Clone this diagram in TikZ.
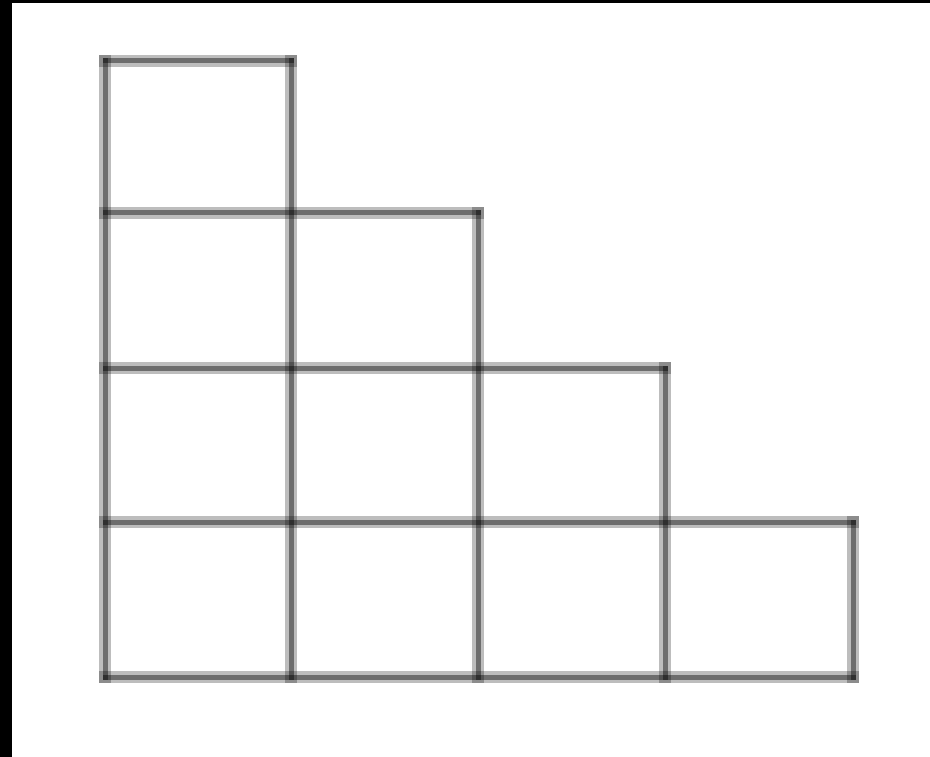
\documentclass[tikz,border=0pt]{standalone}
\begin{document}
\begin{tikzpicture}[x=1pt,y=-1pt,
  halo/.style={draw=black, draw opacity=0.26, line width=12pt, line cap=rect},
  core/.style={draw=black, draw opacity=0.42, line width=5pt, line cap=rect}]
\useasboundingbox (0,0) rectangle (930,757);
\fill[white] (0,0) rectangle (930,757);
\fill[black] (0,0) rectangle (12,757);
\fill[black] (0,0) rectangle (930,3);
% grid coordinates
\foreach \i/\x in {0/105,1/291,2/478,3/665,4/853}{
  \foreach \j/\y in {0/61,1/213,2/368,3/522,4/677}{
    \coordinate (p\i\j) at (\x,\y);
  }
}
\foreach \s in {halo,core}{
  % horizontal lines
  \draw[\s] (p00) -- (p10);
  \draw[\s] (p01) -- (p21);
  \draw[\s] (p02) -- (p32);
  \draw[\s] (p03) -- (p43);
  \draw[\s] (p04) -- (p44);
  % vertical lines
  \draw[\s] (p00) -- (p04);
  \draw[\s] (p10) -- (p14);
  \draw[\s] (p21) -- (p24);
  \draw[\s] (p32) -- (p34);
  \draw[\s] (p43) -- (p44);
}
\end{tikzpicture}
\end{document}
